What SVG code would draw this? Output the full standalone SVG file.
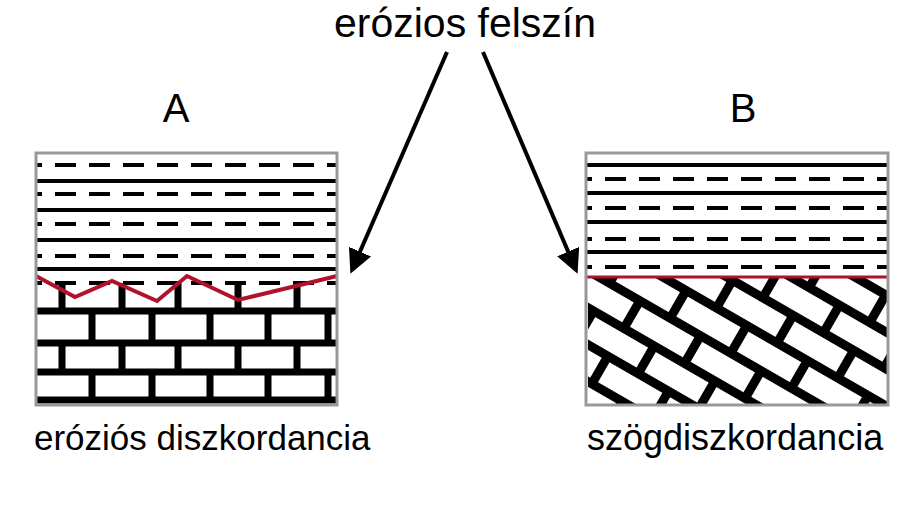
<svg xmlns="http://www.w3.org/2000/svg" width="910" height="512" viewBox="0 0 910 512">
<style>
text{font-family:"Liberation Sans",Arial,sans-serif;fill:#000}
.s{stroke:#000;stroke-width:4}
.d{stroke:#000;stroke-width:4;stroke-dasharray:21 13}
.m{stroke:#000;stroke-width:7}
.box{fill:none;stroke:#999;stroke-width:3}
.arr{stroke:#000;stroke-width:4;fill:none;marker-end:url(#ah)}
</style>
<defs>
<marker id="ah" markerWidth="6" markerHeight="6" refX="5" refY="3" orient="auto" markerUnits="strokeWidth"><path d="M0,0 L6,3 L0,6 z" fill="#000"/></marker>
<pattern id="br" width="70" height="64" patternUnits="userSpaceOnUse" patternTransform="rotate(30)">
<rect width="70" height="64" fill="#fff"/>
<rect y="0" width="70" height="9" fill="#000"/>
<rect y="32" width="70" height="9" fill="#000"/>
<rect x="0" y="0" width="9" height="41" fill="#000"/>
<rect x="35" y="32" width="9" height="32" fill="#000"/>
</pattern>
<clipPath id="cb"><rect x="588" y="278" width="299" height="126"/></clipPath>
</defs>
<text x="465" y="37" font-size="41" text-anchor="middle">erózios felszín</text>
<text x="176" y="122" font-size="40" text-anchor="middle">A</text>
<text x="743" y="122" font-size="40" text-anchor="middle">B</text>
<g id="boxA">
<rect x="36" y="153" width="301" height="252" fill="#fff"/>
<g class="d"><line x1="36" y1="165" x2="337" y2="165" stroke-dashoffset="15"/><line x1="36" y1="194" x2="337" y2="194" stroke-dashoffset="15"/><line x1="36" y1="224" x2="337" y2="224" stroke-dashoffset="15"/><line x1="36" y1="256" x2="337" y2="256" stroke-dashoffset="15"/><line x1="36" y1="283" x2="337" y2="283" stroke-dashoffset="15"/></g>
<g class="s"><line x1="36" y1="181" x2="337" y2="181"/><line x1="36" y1="210" x2="337" y2="210"/><line x1="36" y1="240" x2="337" y2="240"/><line x1="36" y1="269" x2="337" y2="269"/></g>
<g class="m">
<line x1="36" y1="311" x2="337" y2="311"/><line x1="36" y1="343" x2="337" y2="343"/><line x1="36" y1="372" x2="337" y2="372"/><line x1="36" y1="400" x2="337" y2="400"/>
<path d="M62,283V311M122,283V311M178,283V311M238,283V311M297,283V311M92,311V343M152,311V343M210,311V343M268,311V343M328,311V343M62,343V372M122,343V372M178,343V372M238,343V372M297,343V372M92,372V400M152,372V400M210,372V400M268,372V400M328,372V400"/>
</g>
<polyline points="36,276 75,297 112,281 157,301 187,276 238,300 337,276" fill="none" stroke="#b0122c" stroke-width="4"/>
<rect class="box" x="36" y="153" width="301" height="252"/>
</g>
<g id="boxB">
<rect x="586" y="153" width="302" height="252" fill="#fff"/>
<g class="s"><line x1="586" y1="165" x2="888" y2="165"/><line x1="586" y1="193" x2="888" y2="193"/><line x1="586" y1="222" x2="888" y2="222"/><line x1="586" y1="252" x2="888" y2="252"/></g>
<g class="d"><line x1="586" y1="179" x2="888" y2="179" stroke-dashoffset="15"/><line x1="586" y1="208" x2="888" y2="208" stroke-dashoffset="15"/><line x1="586" y1="239" x2="888" y2="239" stroke-dashoffset="15"/><line x1="586" y1="267" x2="888" y2="267" stroke-dashoffset="15"/></g>
<rect x="588" y="278" width="299" height="126" fill="url(#br)" clip-path="url(#cb)"/>
<line x1="586" y1="277" x2="888" y2="277" stroke="#b0122c" stroke-width="3"/>
<rect class="box" x="586" y="153" width="302" height="252"/>
</g>
<g id="connectors">
<line class="arr" x1="447" y1="52" x2="352" y2="270"/>
<line class="arr" x1="483" y1="52" x2="576" y2="270"/>
</g>
<text x="34" y="450" font-size="35">eróziós diszkordancia</text>
<text x="587" y="450" font-size="36">szögdiszkordancia</text>
</svg>
